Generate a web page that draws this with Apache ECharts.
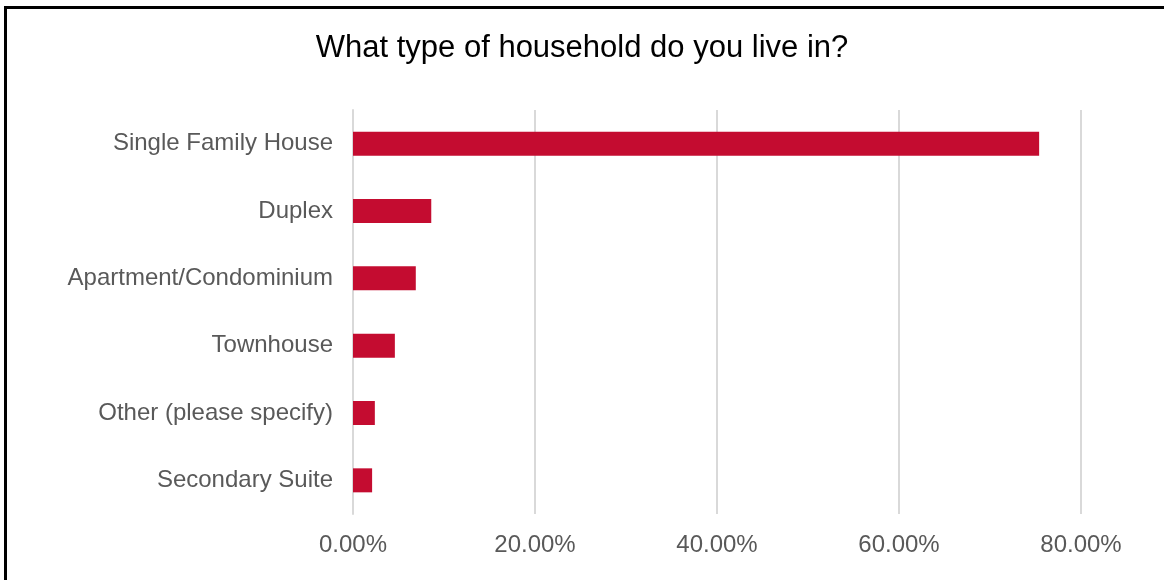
<!DOCTYPE html>
<html>
<head>
<meta charset="utf-8">
<script src="https://cdn.jsdelivr.net/npm/echarts@6/dist/echarts.min.js"></script>
<style>
  html, body { margin: 0; padding: 0; background: #fff; }
  #frame { position: absolute; left: 4px; top: 6px; width: 1200px; height: 600px;
           border-left: 3px solid #000; border-top: 3px solid #000; box-sizing: border-box; }
  #chart { position: absolute; left: 0; top: 0; width: 1164px; height: 580px; }
</style>
</head>
<body>
<div id="frame"></div>
<div id="chart"></div>
<script>
// Household types, listed top to bottom
const categories = [
  'Single Family House',
  'Duplex',
  'Apartment/Condominium',
  'Townhouse',
  'Other (please specify)',
  'Secondary Suite'
];
// Share of respondents (%)
const shares = [75.4, 8.6, 6.9, 4.6, 2.4, 2.1];

const FONT = 'Liberation Sans, Arial, sans-serif';

const chart = echarts.init(document.getElementById('chart'), null, { renderer: 'canvas' });
chart.setOption({
  animation: false,
  backgroundColor: 'transparent',
  title: {
    text: 'What type of household do you live in?',
    left: 'center',
    top: 28,
    textStyle: { fontFamily: FONT, fontSize: 31, fontWeight: 'normal', color: '#000' }
  },
  grid: { left: 353, right: 83, top: 110, bottom: 66 },
  xAxis: {
    type: 'value',
    min: 0,
    max: 80,
    interval: 20,
    axisLine: { show: false },
    axisTick: { show: false },
    splitLine: { lineStyle: { color: '#d9d9d9', width: 2 } },
    axisLabel: {
      formatter: v => v.toFixed(2) + '%',
      fontFamily: FONT,
      fontSize: 24,
      color: '#595959',
      margin: 19
    }
  },
  yAxis: {
    type: 'category',
    data: categories,
    inverse: true,
    axisLine: { lineStyle: { color: '#d9d9d9', width: 2 } },
    axisTick: { show: false },
    axisLabel: {
      fontFamily: FONT,
      fontSize: 24,
      color: '#595959',
      margin: 20
    }
  },
  series: [{
    type: 'bar',
    data: shares,
    barWidth: 24,
    itemStyle: { color: '#c40c30' }
  }]
});
</script>
</body>
</html>
